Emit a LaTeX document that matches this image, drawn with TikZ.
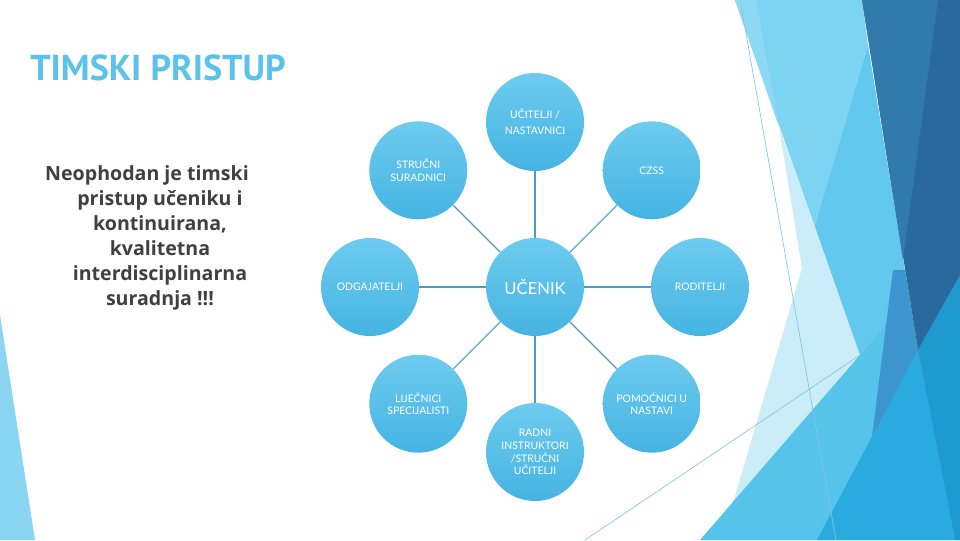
\documentclass[tikz,border=0pt]{standalone}
\usepackage{fontspec}
\setmainfont{PT Sans}
\newfontfamily\bodyfont{Open Sans}
\newfontfamily\lblfont{Lato}
\definecolor{titlecol}{HTML}{5BC2EA}
\definecolor{bodycol}{HTML}{404040}
\definecolor{circtop}{HTML}{6DCBEF}
\definecolor{circbot}{HTML}{45B4E2}
\definecolor{spokecol}{HTML}{4D9AC6}
\definecolor{fbl}{HTML}{8AD5F1}
\definecolor{fpale}{HTML}{CBEDFA}
\definecolor{flight}{HTML}{7DD3F2}
\definecolor{fsliver}{HTML}{8DD9F4}
\definecolor{fmed}{HTML}{62C8EE}
\definecolor{fband}{HTML}{55C3EA}
\definecolor{fcone}{HTML}{2AABDF}
\definecolor{fctwo}{HTML}{1F9ACE}
\definecolor{fstrip}{HTML}{3C95CF}
\definecolor{fdarka}{HTML}{3279AC}
\definecolor{fdarkb}{HTML}{2A699D}
\definecolor{fthin}{HTML}{86C5DF}
\begin{document}
\begin{tikzpicture}[x=0.75pt,y=-0.75pt,
  hub/.style={circle, minimum size=73.5pt, inner sep=0pt, top color=circtop, bottom color=circbot,
    text=white, font=\lblfont\fontsize{7.8}{9.5}\selectfont, align=center},
  spoke/.style={draw=spokecol, line width=2pt},
  diagspoke/.style={draw=spokecol, line width=0.8pt},
  thinline/.style={draw=fthin, line width=0.5pt}
]
\useasboundingbox (0,0) rectangle (960,540);
\fill[white] (0,0) rectangle (960,540);

% background facets
\fill[fbl] (0,315) -- (0,540) -- (35,540) -- cycle;
\fill[fpale] (779,127) -- (802,268) -- (733,503) -- (860,355) -- cycle;
\fill[flight] (735,0) -- (862,0) -- (868,45) -- (814.6,226) -- cycle;
\fill[fsliver] (735,0) -- (756,0) -- (779,127) -- cycle;
\fill[fmed] (868,45) -- (814.6,226) -- (860,355) -- (909,295) -- cycle;
\fill[fband] (700,540) -- (860,355) -- (909,295) -- (918,350) -- (960,275) -- (960,540) -- cycle;
\fill[fcone] (817,540) -- (918,350) -- (955,540) -- cycle;
\fill[fctwo] (918,350) -- (960,275) -- (960,540) -- (955,540) -- cycle;
\fill[fstrip] (893,270) -- (905,270) -- (918,350) -- (872,437) -- cycle;
\fill[fdarkb] (862,0) -- (960,0) -- (960,275) -- (918,350) -- cycle;
\fill[fdarka] (862,0) -- (938,0) -- (903,260) -- cycle;
\draw[thinline] (740,0) -- (836,540);
\draw[thinline] (585,540) -- (860,355);

% title and text
\node[anchor=base west, inner sep=0pt, text=titlecol, font=\bfseries\fontsize{27}{30}\selectfont] (title) at (30,80) {TIMSKI PRISTUP};
\node[align=center, inner sep=0pt, text=bodycol, font=\bodyfont\bfseries\fontsize{14.7}{18.75}\selectfont] (body) at (160,238)
  {\hspace*{-19.5pt}Neophodan je timski\\pristup učeniku i\\kontinuirana,\\kvalitetna\\interdisciplinarna\\suradnja !!!};

% radial diagram
\node[hub, font=\lblfont\fontsize{12.5}{15}\selectfont] (c) at (535,287) {UČENIK};
\node[hub, font=\lblfont\fontsize{7.8}{12}\selectfont] (n) at (535,122) {UČITELJI /\\NASTAVNICI};
\node[hub] (nw) at (418.3,170.3) {STRUČNI\\SURADNICI};
\node[hub] (ne) at (651.7,170.3) {CZSS};
\node[hub] (w) at (370,287) {ODGAJATELJI};
\node[hub] (e) at (700,287) {RODITELJI};
\node[hub] (sw) at (418.3,403.7) {LIJEČNICI\\SPECIJALISTI};
\node[hub] (se) at (651.7,403.7) {POMOĆNICI U\\NASTAVI};
\node[hub] (s) at (535,452) {RADNI\\INSTRUKTORI\\/STRUČNI\\UČITELJI};

\draw[spoke] (c) -- (n);
\draw[spoke] (c) -- (w);
\draw[spoke] (c) -- (e);
\draw[spoke] (c) -- (s);
\draw[diagspoke] (c) -- (nw);
\draw[diagspoke] (c) -- (ne);
\draw[diagspoke] (c) -- (sw);
\draw[diagspoke] (c) -- (se);
\end{tikzpicture}
\end{document}
